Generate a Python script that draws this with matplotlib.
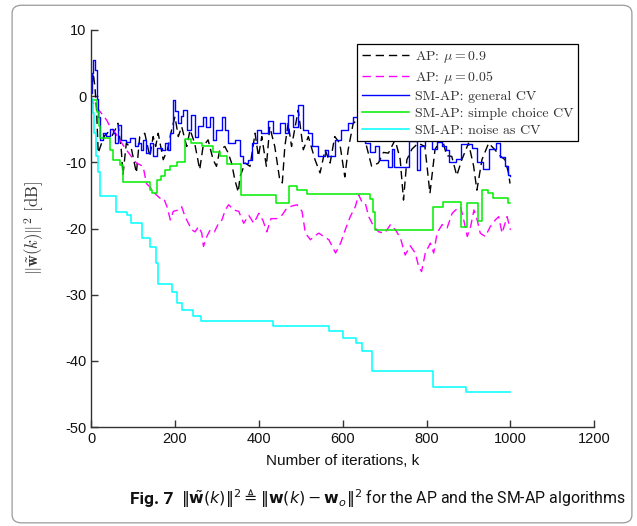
"""Squared weight-error norm of AP vs SM-AP algorithms (reference Fig. 7)."""

import matplotlib
matplotlib.use("Agg")

import matplotlib.pyplot as plt
from matplotlib.patches import FancyBboxPatch

plt.rcParams["mathtext.fontset"] = "cm"
plt.rcParams["axes.unicode_minus"] = False

# AP, mu = 0.9 (iteration, dB)
ap09_k = [0, 3, 5, 9, 13, 17, 25, 32, 40, 50, 58, 64, 72, 76, 84, 96, 108, 116, 128,
          140, 148, 154, 160, 172, 182, 192, 200, 208, 216, 228, 236, 247, 259, 267,
          279, 291, 299, 307, 319, 327, 335, 343, 351, 355, 367, 379, 391, 399, 407,
          418, 426, 438, 450, 456, 462, 470, 478, 494, 506, 518, 534, 546, 558, 570,
          581, 593, 605, 613, 625, 637, 649, 657, 669, 685, 697, 709, 725, 737, 745,
          753, 765, 780, 796, 808, 820, 836, 848, 860, 872, 884, 900, 912, 920, 932,
          948, 963, 975, 987, 995, 999]
ap09_db = [0.0, 2.0, 3.5, 1.5, -2.0, -8.6, -7.1, -6.0, -5.5, -6.0, -5.0, -4.1, -8.1,
           -11.9, -7.1, -7.9, -11.6, -6.1, -5.6, -9.1, -6.1, -7.6, -5.6, -9.6, -8.1,
           -5.1, -3.1, -6.1, -4.6, -7.6, -5.1, -7.1, -11.1, -7.6, -6.6, -9.6, -10.6,
           -8.1, -7.6, -8.6, -10.1, -12.7, -14.5, -12.2, -10.1, -10.6, -5.6, -9.1,
           -6.1, -10.6, -4.6, -7.6, -12.7, -13.1, -7.6, -4.1, -7.6, -2.1, -8.1, -6.1,
           -9.6, -11.6, -8.1, -10.1, -6.1, -7.1, -12.2, -8.1, -4.1, -3.5, -5.5, -7.6,
           -10.6, -10.1, -8.5, -8.6, -6.6, -9.5, -15.7, -9.6, -8.0, -7.1, -7.6, -14.7,
           -8.1, -6.1, -9.0, -9.1, -12.0, -9.6, -7.1, -10.5, -14.2, -9.6, -7.1, -8.1,
           -9.0, -9.6, -11.5, -13.2]

# AP, mu = 0.05
ap005_k = [0, 1, 10, 21, 37, 45, 55, 68, 84, 96, 108, 124, 132, 140, 152, 164, 173,
           181, 189, 196, 208, 216, 224, 232, 240, 248, 256, 264, 268, 276, 284, 294,
           304, 312, 320, 328, 340, 352, 364, 376, 388, 400, 410, 419, 429, 443, 455,
           467, 479, 491, 503, 511, 523, 531, 543, 555, 567, 575, 583, 595, 606, 618,
           630, 638, 646, 654, 662, 674, 686, 700, 714, 726, 738, 749, 761, 773, 781,
           788, 797, 809, 817, 825, 837, 849, 861, 869, 881, 889, 897, 905, 913, 921,
           928, 940, 952, 964, 972, 980, 992, 1000]
ap005_db = [0.0, -0.6, -1.5, -2.3, -3.6, -4.6, -5.3, -6.6, -8.1, -9.1, -10.1, -10.6,
            -13.2, -13.7, -14.7, -15.4, -15.4, -16.7, -18.7, -17.4, -17.2, -16.7,
            -18.2, -19.2, -20.2, -20.5, -19.7, -20.7, -22.7, -21.2, -20.2, -20.5,
            -19.2, -18.7, -17.2, -16.4, -17.2, -17.4, -19.2, -18.0, -19.2, -17.7,
            -18.8, -20.5, -18.5, -18.5, -18.0, -16.9, -16.6, -16.4, -17.4, -20.7,
            -21.7, -21.2, -20.7, -21.2, -21.7, -22.7, -23.7, -22.2, -20.2, -18.2,
            -16.7, -14.9, -16.0, -16.2, -18.2, -19.7, -20.5, -20.7, -19.4, -20.2,
            -21.5, -24.0, -22.6, -23.7, -25.7, -26.5, -23.7, -22.2, -23.7, -20.7,
            -19.4, -19.9, -17.7, -17.2, -16.7, -18.8, -21.2, -19.7, -17.2, -18.8,
            -20.7, -21.2, -19.7, -18.7, -18.2, -20.7, -18.2, -20.2]

# SM-AP, general CV (held between updates)
gen_k = [0, 3, 5, 9, 13, 15, 17, 21, 28, 36, 45, 52, 56, 64, 72, 84, 92, 104, 112,
         120, 124, 132, 140, 148, 156, 168, 176, 184, 188, 196, 201, 208, 214, 220,
         228, 239, 247, 255, 267, 273, 283, 291, 299, 311, 319, 327, 343, 355, 363,
         375, 383, 395, 405, 422, 434, 450, 462, 470, 482, 494, 506, 518, 526, 542,
         558, 566, 581, 597, 613, 625, 640, 654, 666, 678, 686, 707, 717, 722, 757,
         776, 785, 797, 813, 824, 837, 846, 853, 870, 881, 909, 920, 935, 948, 965,
         975, 988, 995, 1000]
gen_db = [0.5, 3.5, 5.5, 4.0, 1.9, -0.5, -3.1, -6.6, -5.6, -6.0, -4.9, -5.6, -7.1,
          -4.3, -6.6, -6.9, -6.3, -7.6, -7.1, -8.1, -6.6, -8.6, -7.1, -9.1, -7.9,
          -8.1, -7.1, -8.1, -5.6, -0.6, -2.3, -4.1, -3.0, -2.1, -5.1, -2.8, -6.1,
          -4.5, -3.1, -4.6, -3.1, -6.6, -5.1, -3.1, -5.1, -7.1, -6.6, -9.1, -10.1,
          -9.6, -7.1, -5.1, -5.6, -3.8, -5.6, -4.1, -5.6, -2.8, -4.6, -1.3, -5.1,
          -5.6, -7.6, -9.1, -8.1, -9.1, -6.6, -5.1, -4.1, -3.1, -4.5, -7.0, -8.5,
          -7.5, -9.6, -10.7, -8.0, -10.7, -6.8, -11.1, -7.5, -6.6, -8.0, -6.9, -7.6,
          -8.2, -9.9, -9.5, -7.2, -7.8, -10.0, -11.0, -8.0, -7.0, -9.2, -10.6,
          -11.9, -12.0]

# SM-AP, simple choice CV
simple_k = [0, 14, 18, 21, 45, 53, 68, 76, 140, 146, 156, 166, 176, 188, 204, 224,
            239, 265, 291, 308, 323, 358, 442, 472, 492, 516, 666, 672, 677, 816, 838,
            881, 897, 922, 933, 947, 959, 995, 1000]
simple_db = [-0.6, -2.4, -4.5, -6.3, -8.1, -9.6, -10.4, -12.9, -14.2, -14.7, -12.7,
             -12.0, -11.1, -10.6, -9.9, -6.5, -7.1, -7.5, -8.4, -9.0, -10.2, -14.9,
             -16.2, -13.6, -14.2, -14.8, -15.6, -17.5, -20.2, -16.8, -16.0, -19.8,
             -16.1, -18.9, -14.2, -14.6, -15.4, -16.1, -16.1]

# SM-AP, noise as CV
noise_k = [0, 4, 8, 12, 17, 21, 60, 86, 95, 122, 141, 155, 160, 193, 205, 217, 243,
           262, 434, 568, 601, 632, 647, 670, 816, 895, 1000]
noise_db = [-0.5, -2.5, -5.5, -9.0, -11.5, -15.1, -17.5, -18.0, -19.2, -21.4, -22.8,
            -25.2, -28.4, -29.6, -31.2, -32.3, -33.2, -34.0, -34.7, -35.5, -36.5,
            -37.3, -38.5, -41.5, -43.9, -44.7, -44.7]

x_ticks = [0, 200, 400, 600, 800, 1000, 1200]
y_ticks = [-50, -40, -30, -20, -10, 0, 10]

fig = plt.figure(figsize=(6.37, 5.26), dpi=100)
ax = fig.add_axes([0.143, 0.188, 0.79, 0.755])

ax.plot(ap09_k, ap09_db, color="k", lw=1.0, ls=(0, (6, 3.5)),
        label=r"AP: $\mu = 0.9$")
ax.plot(ap005_k, ap005_db, color="#ff00ff", lw=1.0, ls=(0, (6, 3.5)),
        label=r"AP: $\mu = 0.05$")
ax.plot(gen_k, gen_db, color="#0000ff", lw=1.0, drawstyle="steps-post",
        label="SM-AP: general CV")
ax.plot(simple_k, simple_db, color="#00ee00", lw=1.1, drawstyle="steps-post",
        label="SM-AP: simple choice CV")
ax.plot(noise_k, noise_db, color="#00ffff", lw=1.1, drawstyle="steps-post",
        label="SM-AP: noise as CV")

ax.set_xlim(0, 1200)
ax.set_ylim(-50, 10)
ax.set_xticks(x_ticks)
ax.set_yticks(y_ticks)
for side in ("top", "right"):
    ax.spines[side].set_visible(False)
for side in ("left", "bottom"):
    ax.spines[side].set_color("#333333")
    ax.spines[side].set_linewidth(1.0)
ax.tick_params(direction="in", length=5, width=1.0, color="#333333",
               labelsize=10.5, labelcolor="#111111")
for lab in ax.get_xticklabels() + ax.get_yticklabels():
    lab.set_family("Liberation Sans")

ax.set_xlabel("Number of iterations, k", family="Liberation Sans", fontsize=11,
              color="#111111", labelpad=6)
ax.set_ylabel(r"$\Vert\tilde{\mathbf{w}}(k)\Vert^2$ [dB]", family="cmr10",
              fontsize=12, color="#333333")
ax.yaxis.set_label_coords(-0.09, 0.5)

leg = ax.legend(loc="upper right", bbox_to_anchor=(0.968, 0.965),
                borderaxespad=0, fancybox=False, framealpha=1, edgecolor="k",
                prop={"family": "cmr10", "size": 10}, handlelength=3.4,
                labelspacing=0.3, borderpad=0.35, handletextpad=0.4)
leg.get_frame().set_linewidth(0.9)
for t in leg.get_texts():
    t.set_color("#333333")

# rounded frame around the whole figure
fig.patches.append(FancyBboxPatch((0.019, 0.006), 0.973, 0.984,
                                  boxstyle="round,pad=0,rounding_size=0.015",
                                  transform=fig.transFigure, fill=False,
                                  ec="#9a9a9a", lw=0.9))

# caption: bold figure number, then the description fitted to end near x=624 px
head = fig.text(0.204, 0.042, "Fig. 7", family="Roboto", weight="bold",
                fontsize=12.5, color="#111111")
fig.canvas.draw()
head_end = head.get_window_extent().x1 / fig.bbox.width
body = fig.text(head_end + 0.012, 0.042,
                r"$\Vert\tilde{\mathbf{w}}(k)\Vert^2 \triangleq "
                r"\Vert\mathbf{w}(k) - \mathbf{w}_o\Vert^2$ for the AP and the SM-AP algorithms",
                family="Roboto", fontsize=12, color="#111111",
                math_fontfamily="dejavusans")
fig.canvas.draw()
bb = body.get_window_extent()
target = 624 - bb.x0
body.set_fontsize(12 * target / bb.width)

fig.savefig("out.png", dpi=100)
plt.close(fig)
